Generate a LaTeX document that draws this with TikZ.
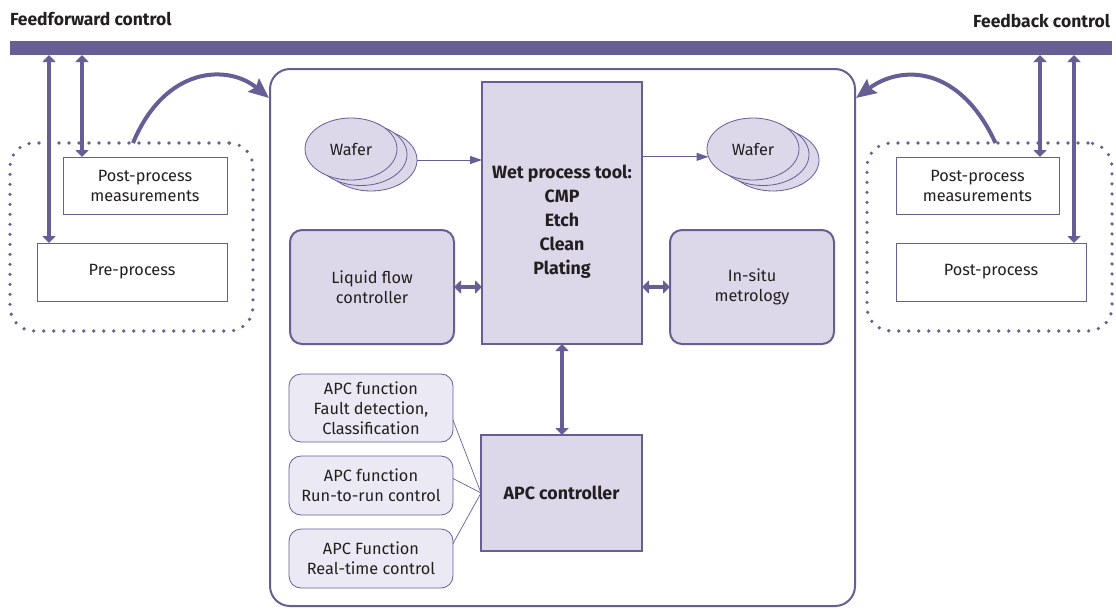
\documentclass[tikz,border=0pt]{standalone}
\usepackage{fontspec}
\setmainfont{Fira Sans}
\usetikzlibrary{arrows.meta,shapes.geometric,calc}
\definecolor{pc}{HTML}{685E96}
\definecolor{lav}{HTML}{DCD8EA}
\definecolor{lav2}{HTML}{EBE9F4}
\definecolor{tx}{HTML}{231F20}
\begin{document}
\begin{tikzpicture}[x=1pt,y=-1pt,
  every node/.style={text=tx, font=\fontsize{16.3}{20}\selectfont, align=center, inner sep=0pt, outer sep=0pt},
  titletext/.style={font=\fontsize{17.5}{20}\selectfont\bfseries},
  boldtext/.style={font=\fontsize{17.8}{24}\selectfont\bfseries},
  bar/.style={fill=pc, draw=none, minimum width=1102pt, minimum height=14pt},
  mainbox/.style={draw=pc, line width=2pt, rounded corners=20pt, minimum width=585pt, minimum height=537pt},
  toolbox/.style={draw=pc, fill=lav, line width=2pt},
  ctlbox/.style={draw=pc, fill=lav, line width=2pt, rounded corners=12pt, minimum width=164pt, minimum height=114pt},
  fnbox/.style={draw=pc, fill=lav2, line width=0.8pt, rounded corners=12pt, minimum width=164pt},
  plainbox/.style={draw=pc, fill=white, line width=0.9pt},
  dotbox/.style={draw=pc, line width=3.6pt, dash pattern=on 0pt off 10pt, line cap=round, rounded corners=24pt},
  wafer/.style={ellipse, draw=pc, fill=lav, line width=0.8pt, minimum width=92pt, minimum height=62pt},
  vbar/.style={draw=pc, line width=4.6pt, {Triangle[length=7pt,width=13pt]}-{Triangle[length=7pt,width=13pt]}},
  dblarrow/.style={draw=pc, line width=4.6pt, {Triangle[length=7pt,width=13pt]}-{Triangle[length=7pt,width=13pt]}},
  thinarrow/.style={draw=pc, line width=1pt, -{Triangle[length=12pt,width=8pt]}},
  thinline/.style={draw=pc, line width=0.7pt},
  curvearrow/.style={draw=pc, line width=4pt, -{Stealth[length=20pt,width=17pt,inset=3pt]}}
]
\useasboundingbox (0,0) rectangle (1116,608);

% top bar and titles
\node[bar] (bar) at (561,48) {};
\node[titletext, anchor=base west] (ff) at (10,25) {Feedforward control};
\node[titletext, anchor=base east] (fb) at (1110,27) {Feedback control};

% main frame
\node[mainbox] (main) at (562.5,337.5) {};

% wet process tool
\node[toolbox, minimum width=160pt, minimum height=262pt] (tool) at (562,213) {};
\node[boldtext] (tooltext) at (562,222) {Wet process tool:\\CMP\\Etch\\Clean\\Plating};

% wafers left
\node[wafer] (lw3) at (371,160) {};
\node[wafer] (lw2) at (361,154.5) {};
\node[wafer] (lw1) at (351,149) {Wafer};
% wafers right
\node[wafer] (rw3) at (773,160) {};
\node[wafer] (rw2) at (763,154.5) {};
\node[wafer] (rw1) at (753,149) {Wafer};

\draw[thinarrow] (lw3.east) -- (lw3.east -| tool.west);
\draw[thinarrow] (tool.east |- rw1.190) -- (rw1.190);

% controllers
\node[ctlbox] (liq) at (372,287) {Liquid flow\\controller};
\node[ctlbox] (ins) at (752,287) {In-situ\\metrology};
\draw[dblarrow] (liq.east) -- (liq.east -| tool.west);
\draw[dblarrow] (tool.east |- ins.west) -- (ins.west);

% APC controller
\node[toolbox, minimum width=161pt, minimum height=116pt, font=\fontsize{17.8}{20}\selectfont\bfseries] (apc) at (561.5,493) {APC controller};
\draw[dblarrow] (tool.south) -- (tool.south |- apc.north);

% APC functions
\node[fnbox, minimum height=68pt] (f1) at (371,408) {APC function\\Fault detection,\\Classification};
\node[fnbox, minimum height=59pt] (f2) at (371,485.5) {APC function\\Run-to-run control};
\node[fnbox, minimum height=59pt] (f3) at (371,558.5) {APC Function\\Real-time control};
\draw[thinline] ($(f1.east)+(0,12)$) -- (apc.west);
\draw[thinline] ($(f2.east)+(0,-7)$) -- (apc.west);
\draw[thinline] ($(f3.east)+(0,-15)$) -- (apc.west);

% left group
\node[dotbox, minimum width=243pt, minimum height=188pt] (ldot) at (131.5,237) {};
\node[plainbox, minimum width=164pt, minimum height=57pt] (lpm) at (145,185.5) {Post-process\\measurements};
\node[plainbox, minimum width=190pt, minimum height=58pt] (lpre) at (132,272) {Pre-process};

% right group
\node[dotbox, minimum width=245pt, minimum height=188pt] (rdot) at (989.5,237) {};
\node[plainbox, minimum width=163pt, minimum height=57pt] (rpm) at (977.5,185.5) {Post-process\\measurements};
\node[plainbox, minimum width=190pt, minimum height=58pt] (rpost) at (991,272) {Post-process};

% vertical arrows from bar
\coordinate (a1) at (49,0);
\coordinate (a2) at (82,0);
\coordinate (a3) at (1040,0);
\coordinate (a4) at (1074,0);
\draw[vbar] (bar.south -| a1) -- (lpre.north -| a1);
\draw[vbar] (bar.south -| a2) -- (lpm.north -| a2);
\draw[vbar] (bar.south -| a3) -- (rpm.north -| a3);
\draw[vbar] (bar.south -| a4) -- (rpost.north -| a4);

% curved arrows
\draw[curvearrow] ($(ldot.north)+(1.5,0)$) .. controls (165,66) and (228,64) .. ($(main.north west)+(-1,29)$);
\draw[curvearrow] ($(rdot.north)+(6,0)$) .. controls (960,66) and (902,64) .. ($(main.north east)+(1,29)$);
\end{tikzpicture}
\end{document}
